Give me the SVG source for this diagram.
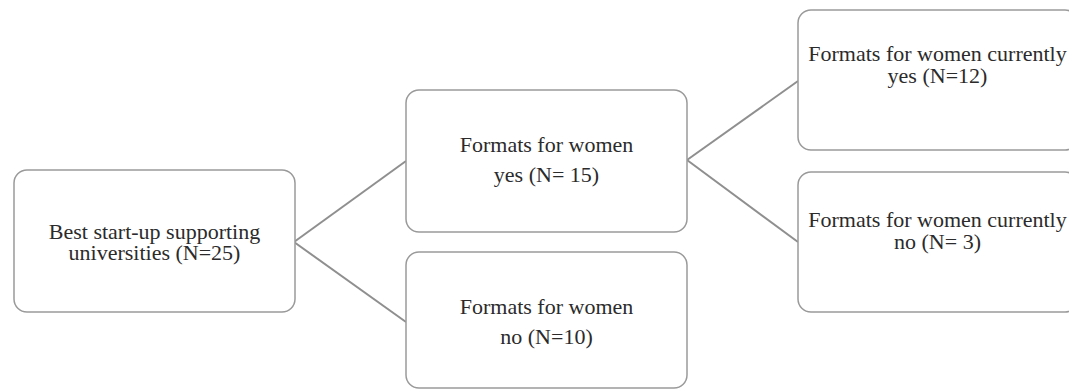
<svg xmlns="http://www.w3.org/2000/svg" width="1069" height="390" viewBox="0 0 1069 390">
<style>
.box{fill:#fff;stroke:#9a9a9a;stroke-width:1.5}
.lbl{font-family:"Liberation Serif","Times New Roman",serif;font-size:22px;fill:#2b2b2b;text-anchor:middle}
.conn{stroke:#8f8f8f;stroke-width:2;fill:none}
</style>
<rect x="0" y="0" width="1069" height="390" fill="#fff"/>
<g id="connectors">
<line class="conn" x1="294" y1="242" x2="406" y2="161"/>
<line class="conn" x1="294" y1="242" x2="406" y2="322"/>
<line class="conn" x1="687" y1="160" x2="798" y2="81"/>
<line class="conn" x1="687" y1="160" x2="798" y2="242"/>
</g>
<g id="n1">
<rect class="box" x="14" y="170" width="281" height="142" rx="13"/>
<text class="lbl" x="154.5" y="239">Best start-up supporting</text>
<text class="lbl" x="154.5" y="260">universities (N=25)</text>
</g>
<g id="n2">
<rect class="box" x="406" y="90" width="281" height="142" rx="13"/>
<text class="lbl" x="546.5" y="152">Formats for women</text>
<text class="lbl" x="546.5" y="182">yes (N= 15)</text>
</g>
<g id="n3">
<rect class="box" x="406" y="252" width="281" height="136" rx="13"/>
<text class="lbl" x="546.5" y="314">Formats for women</text>
<text class="lbl" x="546.5" y="344">no (N=10)</text>
</g>
<g id="n4">
<rect class="box" x="798" y="10" width="280" height="140" rx="13"/>
<text class="lbl" x="937.5" y="61">Formats for women currently</text>
<text class="lbl" x="937.5" y="83">yes (N=12)</text>
</g>
<g id="n5">
<rect class="box" x="798" y="172" width="280" height="140" rx="13"/>
<text class="lbl" x="937.5" y="227">Formats for women currently</text>
<text class="lbl" x="937.5" y="249">no (N= 3)</text>
</g>
</svg>
